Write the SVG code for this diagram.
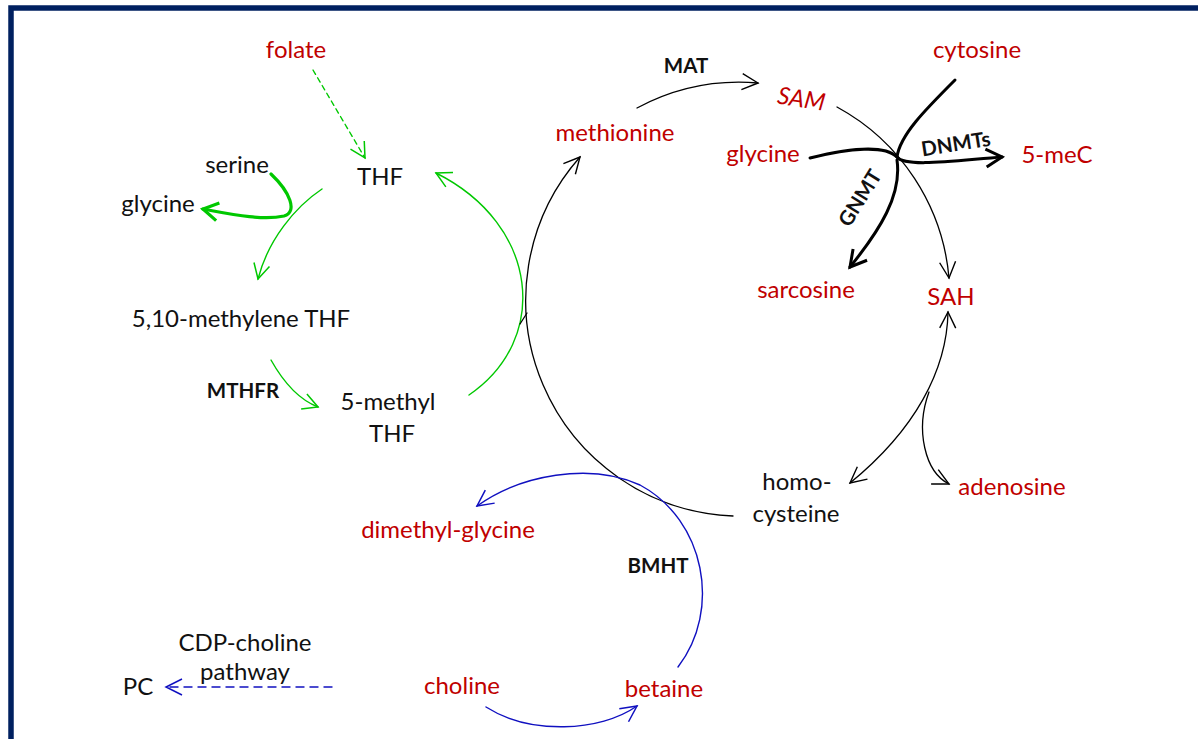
<svg xmlns="http://www.w3.org/2000/svg" width="1198" height="739" viewBox="0 0 1198 739">
<style>
text{font-family:Lato,"Open Sans","Liberation Sans",sans-serif;font-size:24px;text-anchor:middle;fill:#111}
.r{fill:#C00000}
.b{font-weight:bold;font-size:20.5px}
.c{fill:none;stroke-linecap:round}
.g{stroke:#00C800;stroke-width:1.4}
.gt{stroke:#00C800;stroke-width:3.2}
.k{stroke:#000;stroke-width:1.3}
.kt{stroke:#000;stroke-width:3}
.bl{stroke:#1010C0;stroke-width:1.4}
</style>
<defs>
<marker id="ag" markerUnits="userSpaceOnUse" viewBox="-20 -12 24 24" markerWidth="24" markerHeight="24" refX="0" refY="0" orient="auto" overflow="visible"><path d="M-15,-8 L0,0 L-15,8" fill="none" stroke="#00C800" stroke-width="1.5"/></marker>
<marker id="agt" markerUnits="userSpaceOnUse" viewBox="-20 -12 24 24" markerWidth="24" markerHeight="24" refX="0" refY="0" orient="auto" overflow="visible"><path d="M-15,-9 L0,0 L-15,9" fill="none" stroke="#00C800" stroke-width="3.2"/></marker>
<marker id="ak" markerUnits="userSpaceOnUse" viewBox="-20 -12 24 24" markerWidth="24" markerHeight="24" refX="0" refY="0" orient="auto-start-reverse" overflow="visible"><path d="M-16,-8 L0,0 L-16,8" fill="none" stroke="#000" stroke-width="1.4"/></marker>
<marker id="akt" markerUnits="userSpaceOnUse" viewBox="-20 -12 24 24" markerWidth="24" markerHeight="24" refX="0" refY="0" orient="auto" overflow="visible"><path d="M-16,-9 L0,0 L-16,9" fill="none" stroke="#000" stroke-width="3"/></marker>
<marker id="ab" markerUnits="userSpaceOnUse" viewBox="-20 -12 24 24" markerWidth="24" markerHeight="24" refX="0" refY="0" orient="auto" overflow="visible"><path d="M-16,-8 L0,0 L-16,8" fill="none" stroke="#1010C0" stroke-width="1.5"/></marker>
</defs>
<rect x="0" y="0" width="1198" height="739" fill="#fff"/>
<rect id="frame" x="11" y="8" width="1200" height="800" fill="none" stroke="#002060" stroke-width="5.5"/>

<g id="connectors">
<path class="c g" d="M313,70 L365,158" stroke-dasharray="5,4" marker-end="url(#ag)"/>
<path class="c g" d="M322,189 C295,207 268,240 258,279" marker-end="url(#ag)"/>
<path class="c gt" d="M271,174 C290,192 298,212 284,216 C262,221 230,214 203,209" marker-end="url(#agt)"/>
<path class="c g" d="M271,360 C285,385 300,400 318,407" marker-end="url(#ag)"/>
<path class="c g" d="M469,395 C550,340 540,225 436,173" marker-end="url(#ag)"/>
<path class="c k" d="M733,516 A216,216 0 0 1 580,157" marker-end="url(#ak)"/>
<path class="c k" d="M527,313 L520,324"/>
<path class="c k" d="M637,108 A217,217 0 0 1 758,83" marker-end="url(#ak)"/>
<path class="c k" d="M837,107 A216,216 0 0 1 949,278" marker-end="url(#ak)"/>
<path class="c k" d="M948,312 C947,370 915,430 850,483" marker-start="url(#ak)" marker-end="url(#ak)"/>
<path class="c k" d="M929,392 C915,430 925,472 949,484" marker-end="url(#ak)"/>
<path class="c kt" d="M955,80 C925,110 900,135 897,157"/>
<path class="c kt" d="M810,158 C850,148 885,145 897,157"/>
<path class="c kt" d="M897,157 C905,168 960,160 1002,157" marker-end="url(#akt)"/>
<path class="c kt" d="M897,160 C902,195 880,230 850,267" marker-end="url(#akt)"/>
<path class="c bl" d="M678,667 C722,610 705,520 640,485 C590,462 520,475 477,506" marker-end="url(#ab)"/>
<path class="c bl" d="M486,707 C530,735 600,732 637,706" marker-end="url(#ab)"/>
<path class="c bl" d="M332,687 L166,687" stroke-dasharray="8,6" marker-end="url(#ab)"/>
</g>

<g id="folate"><text class="r" x="296" y="58">folate</text></g>
<g id="thf"><text x="380" y="185">THF</text></g>
<g id="serine"><text x="237" y="173">serine</text></g>
<g id="glycine-left"><text x="158" y="212">glycine</text></g>
<g id="methylene-thf"><text x="241" y="327">5,10-methylene THF</text></g>
<g id="mthfr"><text class="b" x="243" y="398">MTHFR</text></g>
<g id="methyl-thf"><text x="388" y="410">5-methyl</text><text x="392" y="442">THF</text></g>
<g id="methionine"><text class="r" x="615" y="141">methionine</text></g>
<g id="mat"><text class="b" x="686" y="73">MAT</text></g>
<g id="sam"><text class="r" x="800" y="107" font-style="italic" transform="rotate(9 800 107)">SAM</text></g>
<g id="cytosine"><text class="r" x="977" y="58">cytosine</text></g>
<g id="glycine-right"><text class="r" x="763" y="162">glycine</text></g>
<g id="dnmts"><text class="b" x="957" y="151" transform="rotate(-9 957 151)">DNMTs</text></g>
<g id="me-c"><text class="r" x="1057" y="163">5-meC</text></g>
<g id="gnmt"><text class="b" x="0" y="0" transform="translate(860,198) rotate(-58) translate(0,7)">GNMT</text></g>
<g id="sarcosine"><text class="r" x="806" y="298">sarcosine</text></g>
<g id="sah"><text class="r" x="951" y="305">SAH</text></g>
<g id="homocysteine"><text x="797" y="490">homo-</text><text x="796" y="522">cysteine</text></g>
<g id="adenosine"><text class="r" x="1012" y="495">adenosine</text></g>
<g id="dimethylglycine"><text class="r" x="448" y="538">dimethyl-glycine</text></g>
<g id="bmht"><text class="b" x="658" y="573">BMHT</text></g>
<g id="choline"><text class="r" x="462" y="694">choline</text></g>
<g id="betaine"><text class="r" x="664" y="697">betaine</text></g>
<g id="cdp-choline"><text x="245" y="651">CDP-choline</text><text x="245" y="680">pathway</text></g>
<g id="pc"><text x="138" y="695">PC</text></g>
</svg>
